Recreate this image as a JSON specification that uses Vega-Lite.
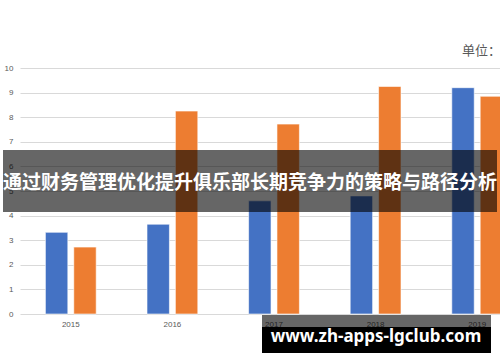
{
  "$schema": "https://vega.github.io/schema/vega-lite/v6.json",
  "width": 480,
  "height": 246,
  "autosize": "none",
  "padding": {"left": 20, "top": 68, "right": 0, "bottom": 48},
  "background": "white",
  "config": {"view": {"stroke": null}},
  "layer": [
    {
      "data": {
        "values": [
          {"year": "2015", "series": "A", "value": 3.32},
          {"year": "2015", "series": "B", "value": 2.72},
          {"year": "2016", "series": "A", "value": 3.65},
          {"year": "2016", "series": "B", "value": 8.25},
          {"year": "2017", "series": "A", "value": 4.6},
          {"year": "2017", "series": "B", "value": 7.72},
          {"year": "2018", "series": "A", "value": 4.8},
          {"year": "2018", "series": "B", "value": 9.25},
          {"year": "2019", "series": "A", "value": 9.2},
          {"year": "2019", "series": "B", "value": 8.85}
        ]
      },
      "mark": {"type": "bar", "stroke": "white", "strokeWidth": 0.6},
      "encoding": {
        "x": {
          "field": "year", "type": "nominal",
          "scale": {"range": [0, 508], "paddingInner": 0.5, "paddingOuter": 0.25},
          "axis": {"title": null, "labelAngle": 0, "ticks": false, "domain": false, "labelFont": "Liberation Sans", "labelFontSize": 8, "labelColor": "#595959", "labelPadding": 6}
        },
        "xOffset": {"field": "series", "type": "nominal", "scale": {"paddingInner": 0.21}},
        "y": {
          "field": "value", "type": "quantitative",
          "scale": {"domain": [0, 10], "nice": false},
          "axis": {"title": null, "values": [0,1,2,3,4,5,6,7,8,9,10], "ticks": false, "domain": false, "gridColor": "#d9d9d9", "gridWidth": 1.2, "labelFont": "Liberation Sans", "labelFontSize": 8, "labelColor": "#595959", "labelPadding": 7}
        },
        "color": {"field": "series", "type": "nominal", "scale": {"domain": ["A", "B"], "range": ["#4472C4", "#ED7D31"]}, "legend": null}
      }
    },
    {
      "data": {"values": [{}]},
      "mark": {"type": "rect", "color": "black", "opacity": 0.6},
      "encoding": {"x": {"value": -17}, "x2": {"value": 477}, "y": {"value": 82}, "y2": {"value": 144}}
    },
    {
      "data": {"values": [{}]},
      "mark": {"type": "text", "text": "通过财务管理优化提升俱乐部长期竞争力的策略与路径分析", "font": "Noto Sans CJK SC", "fontWeight": "bold", "fontSize": 19, "color": "white", "align": "center", "baseline": "middle"},
      "encoding": {"x": {"value": 230}, "y": {"value": 115}}
    },
    {
      "data": {"values": [{}]},
      "mark": {"type": "text", "text": "单位：", "font": "Noto Sans CJK SC", "fontSize": 13, "color": "#595959", "align": "left", "baseline": "middle"},
      "encoding": {"x": {"value": 442}, "y": {"value": -17}}
    },
    {
      "data": {"values": [{}]},
      "mark": {"type": "rect", "color": "white"},
      "encoding": {"x": {"value": -20}, "x2": {"value": 480}, "y": {"value": 259}, "y2": {"value": 294}}
    },
    {
      "data": {"values": [{}]},
      "mark": {"type": "rect", "color": "black", "opacity": 0.6},
      "encoding": {"x": {"value": 242}, "x2": {"value": 471}, "y": {"value": 247}, "y2": {"value": 259}}
    },
    {
      "data": {"values": [{}]},
      "mark": {"type": "rect", "color": "black"},
      "encoding": {"x": {"value": 242}, "x2": {"value": 471}, "y": {"value": 259}, "y2": {"value": 285}}
    },
    {
      "data": {"values": [{}]},
      "mark": {"type": "text", "text": "www.zh-apps-lgclub.com", "font": "Noto Sans", "fontWeight": "bold", "fontSize": 17, "color": "white", "align": "center", "baseline": "middle"},
      "encoding": {"x": {"value": 356}, "y": {"value": 269}}
    }
  ]
}
